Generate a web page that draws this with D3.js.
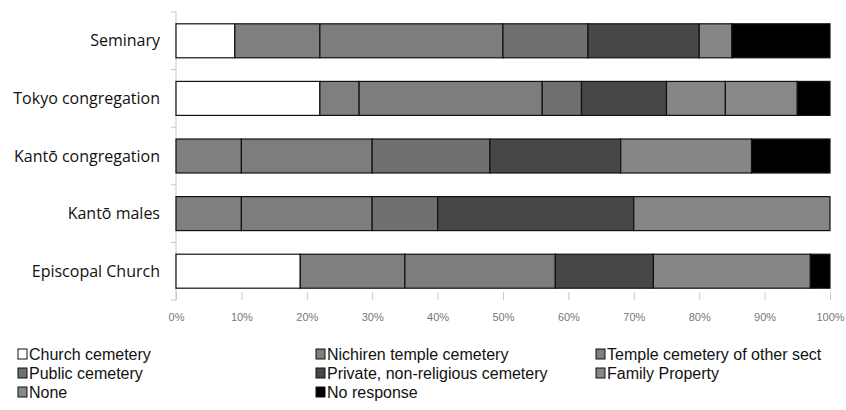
<!DOCTYPE html>
<html>
<head>
<meta charset="utf-8">
<script src="https://cdn.jsdelivr.net/npm/d3@7"></script>
<style>
  body { margin: 0; background: #fff; }
  svg { display: block; }
  .cat { font-family: "Open Sans", sans-serif; font-size: 16px; fill: #111; }
  .tick-label { font-family: "Liberation Sans Narrow", "Liberation Sans", sans-serif; font-size: 11px; fill: #777; }
  .legend text { font-family: "Liberation Sans Narrow", "Liberation Sans", sans-serif; font-size: 16px; fill: #111; }
</style>
</head>
<body>
<div id="chart"></div>
<script>
const groups = ["Seminary", "Tokyo congregation", "Kantō congregation", "Kantō males", "Episcopal Church"];

const seriesNames = [
  "Church cemetery",
  "Nichiren temple cemetery",
  "Temple cemetery of other sect",
  "Public cemetery",
  "Private, non-religious cemetery",
  "Family Property",
  "None",
  "No response"
];

// percentages per group, in series order
const churchCemetery   = [9, 22, 0, 0, 19];
const nichirenTemple   = [13, 6, 10, 10, 16];
const templeOtherSect  = [28, 28, 20, 20, 23];
const publicCemetery   = [13, 6, 18, 10, 0];
const privateCemetery  = [17, 13, 20, 30, 15];
const familyProperty   = [5, 9, 20, 30, 24];
const noneValues       = [0, 11, 0, 0, 0];
const noResponse       = [15, 5, 12, 0, 3];

const xTicks = [0, 10, 20, 30, 40, 50, 60, 70, 80, 90, 100];

const fills = ["#ffffff", "#7f7f7f", "#7d7d7d", "#707070", "#474747", "#868686", "#888888", "#000000"];

const width = 846, height = 410;
const margin = {top: 12, right: 16, bottom: 110, left: 176};

const table = groups.map(function(g, i) {
  return {
    group: g,
    "Church cemetery": churchCemetery[i],
    "Nichiren temple cemetery": nichirenTemple[i],
    "Temple cemetery of other sect": templeOtherSect[i],
    "Public cemetery": publicCemetery[i],
    "Private, non-religious cemetery": privateCemetery[i],
    "Family Property": familyProperty[i],
    "None": noneValues[i],
    "No response": noResponse[i]
  };
});

const stacked = d3.stack().keys(seriesNames)(table);

const x = d3.scaleLinear().domain([0, 100]).range([margin.left, width - margin.right]);
const y = d3.scaleBand().domain(groups).range([margin.top, height - margin.bottom]).paddingInner(0.41).paddingOuter(0.205);
const color = d3.scaleOrdinal().domain(seriesNames).range(fills);

const svg = d3.select("#chart").append("svg")
  .attr("width", width)
  .attr("height", height);

// y axis line and band ticks
const yTop = margin.top, yBottom = height - margin.bottom;
svg.append("line")
  .attr("x1", x(0)).attr("x2", x(0))
  .attr("y1", yTop).attr("y2", yBottom)
  .attr("stroke", "#c8c8c8");

const step = y.step();
d3.range(groups.length + 1).forEach(function(i) {
  const yy = yTop + i * step;
  svg.append("line")
    .attr("x1", x(0) - 5).attr("x2", x(0))
    .attr("y1", yy).attr("y2", yy)
    .attr("stroke", "#c8c8c8");
});

// x ticks
const xAxis = svg.append("g")
  .attr("transform", "translate(0," + (yBottom - 8) + ")")
  .call(d3.axisBottom(x).tickValues(xTicks).tickSize(8).tickFormat(function(d) { return d + "%"; }));
xAxis.select(".domain").remove();
xAxis.selectAll(".tick line").attr("stroke", "#c8c8c8");
xAxis.selectAll(".tick text")
  .attr("class", "tick-label")
  .attr("y", 21)
  .attr("font-family", null)
  .attr("font-size", null);

// bars
const layers = svg.selectAll("g.layer")
  .data(stacked)
  .enter().append("g")
  .attr("class", "layer")
  .attr("fill", function(d) { return color(d.key); });

layers.selectAll("rect")
  .data(function(d) { return d.filter(function(s) { return s[1] - s[0] > 0; }); })
  .enter().append("rect")
  .attr("x", function(d) { return x(d[0]); })
  .attr("y", function(d) { return y(d.data.group); })
  .attr("width", function(d) { return x(d[1]) - x(d[0]); })
  .attr("height", y.bandwidth())
  .attr("stroke", "#111")
  .attr("stroke-width", 1.2);

// category labels
svg.selectAll("text.cat")
  .data(groups)
  .enter().append("text")
  .attr("class", "cat")
  .attr("x", x(0) - 16)
  .attr("y", function(d) { return y(d) + y.bandwidth() / 2; })
  .attr("dy", "0.35em")
  .attr("text-anchor", "end")
  .text(function(d) { return d; });

// legend, three columns
const legendCols = [18, 316, 596];
const legendRows = [354, 373, 392];
const legend = svg.append("g").attr("class", "legend");
seriesNames.forEach(function(name, i) {
  const lx = legendCols[i % 3], ly = legendRows[Math.floor(i / 3)];
  const item = legend.append("g").attr("transform", "translate(" + lx + "," + ly + ")");
  item.append("rect")
    .attr("x", 0).attr("y", -5)
    .attr("width", 9).attr("height", 10)
    .attr("fill", color(name))
    .attr("stroke", "#111");
  item.append("text")
    .attr("x", 11)
    .attr("dy", "0.35em")
    .text(name);
});
</script>
</body>
</html>
